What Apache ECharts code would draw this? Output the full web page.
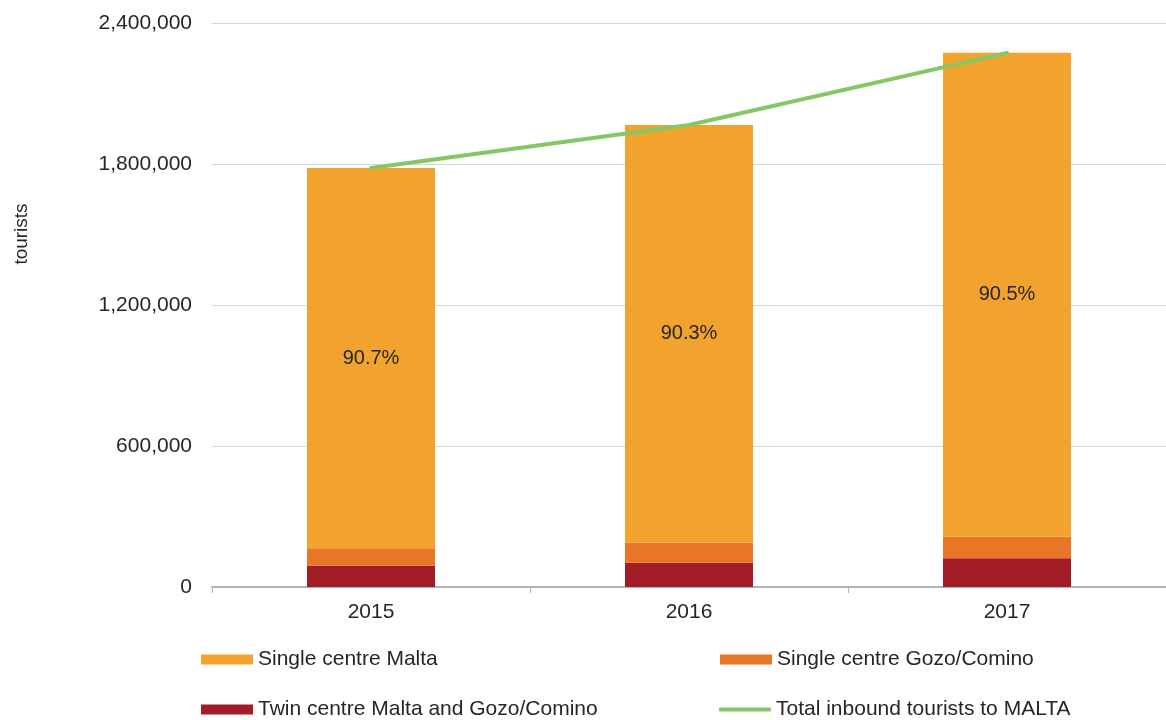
<!DOCTYPE html>
<html>
<head>
<meta charset="utf-8">
<script src="https://cdn.jsdelivr.net/npm/echarts@6/dist/echarts.min.js"></script>
<style>
  html, body { margin: 0; padding: 0; background: #fff; }
  #chart { width: 1166px; height: 720px; }
</style>
</head>
<body>
<div id="chart"></div>
<script>
// Inbound tourists by type of stay, 2015-2017
const years = ['2015', '2016', '2017'];
const twinCentre = [90000, 103000, 122000];        // Twin centre Malta and Gozo/Comino
const singleGozo = [75000, 86000, 92000];          // Single centre Gozo/Comino
const singleMalta = [1618000, 1777000, 2059000];   // Single centre Malta
const maltaShare = ['90.7%', '90.3%', '90.5%'];
const totalInbound = [1783000, 1966000, 2273000];  // Total inbound tourists to MALTA
const yTicks = [0, 600000, 1200000, 1800000, 2400000];

const FONT = '"Liberation Sans", Arial, sans-serif';
const TXT = '#262626';
const LINE_GREEN = '#86c665';

const chart = echarts.init(document.getElementById('chart'));

function legendAt(item, left, top, itemHeight) {
  return {
    data: [item], left: left, top: top, padding: 0,
    itemWidth: 52, itemHeight: itemHeight || 10, itemGap: 0,
    selectedMode: false,
    textStyle: { fontFamily: FONT, fontSize: 21, color: TXT }
  };
}

chart.setOption({
  animation: false,
  grid: { left: 212, right: 0, top: 23, bottom: 133, containLabel: false },
  legend: [
    legendAt({ name: 'Single centre Malta', icon: 'rect' }, 201, 649),
    legendAt({ name: 'Single centre Gozo/Comino', icon: 'rect' }, 720, 649),
    legendAt({ name: 'Twin centre Malta and Gozo/Comino', icon: 'rect' }, 201, 699),
    legendAt({
      name: 'Total inbound tourists to MALTA', icon: 'roundRect',
      itemStyle: { color: LINE_GREEN }
    }, 719, 699, 4)
  ],
  xAxis: {
    type: 'category',
    data: years,
    axisLine: { lineStyle: { color: '#b3b3b3', width: 2 } },
    axisTick: { show: true, length: 6, lineStyle: { color: '#b3b3b3', width: 1 } },
    axisLabel: { fontFamily: FONT, fontSize: 21, color: TXT, margin: 15 }
  },
  yAxis: {
    type: 'value',
    min: yTicks[0],
    max: yTicks[yTicks.length - 1],
    interval: yTicks[1] - yTicks[0],
    axisLine: { show: false },
    axisTick: { show: false },
    splitLine: { lineStyle: { color: '#d9d9d9', width: 1 } },
    axisLabel: {
      fontFamily: FONT, fontSize: 21, color: TXT, margin: 20,
      formatter: v => v.toLocaleString('en-US')
    }
  },
  graphic: [{
    type: 'text',
    x: 22, y: 234,
    rotation: Math.PI / 2,
    style: {
      text: 'tourists', fontFamily: FONT, fontSize: 19, fill: TXT,
      align: 'center', verticalAlign: 'middle'
    }
  }],
  series: [
    {
      name: 'Twin centre Malta and Gozo/Comino', type: 'bar', stack: 'all',
      barWidth: 128, data: twinCentre,
      itemStyle: { color: '#a31d28' }
    },
    {
      name: 'Single centre Gozo/Comino', type: 'bar', stack: 'all',
      barWidth: 128, data: singleGozo,
      itemStyle: { color: '#e97527' }
    },
    {
      name: 'Single centre Malta', type: 'bar', stack: 'all',
      barWidth: 128, data: singleMalta,
      itemStyle: { color: '#f2a32d' },
      label: {
        show: true, position: 'inside',
        fontFamily: FONT, fontSize: 20, color: TXT,
        formatter: p => maltaShare[p.dataIndex]
      }
    },
    {
      name: 'Total inbound tourists to MALTA', type: 'line',
      data: totalInbound, symbol: 'none', z: 5,
      lineStyle: { color: LINE_GREEN, width: 4, cap: 'round' },
      itemStyle: { color: LINE_GREEN }
    }
  ]
});
</script>
</body>
</html>
